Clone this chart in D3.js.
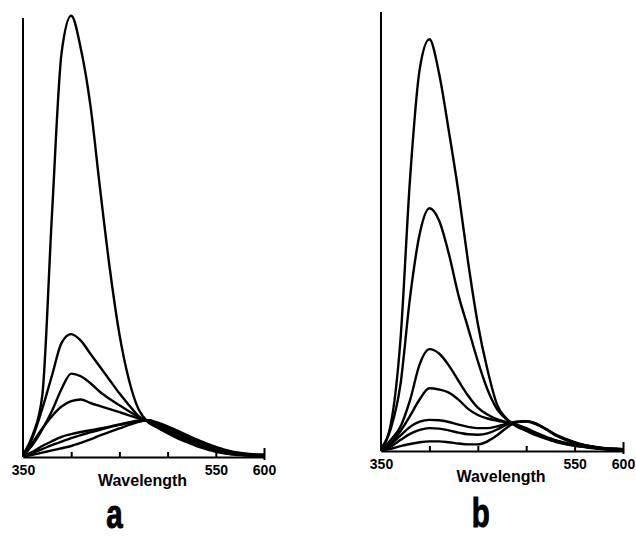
<!DOCTYPE html>
<html>
<head>
<meta charset="utf-8">
<script src="https://cdn.jsdelivr.net/npm/d3@7"></script>
<style>
  body { margin: 0; background: #fff; }
  svg { display: block; }
  .tick text { font-family: "Liberation Sans", Arial, sans-serif; font-weight: bold; font-size: 14px; fill: #000; }
</style>
</head>
<body>
<div id="chart"></div>
<script>
// ---- data (arbitrary intensity units) ----
const wavelengths = [350,360,370,380,390,400,410,420,430,440,450,460,470,480,490,500,510,520,530,540,550,560,570,580,590,600];

// panel a – emission spectra
const spectraA = [
  [0.5,5,14,55,92,100.5,93,80,61,43,28,17.5,10.8,7.9,6.6,5.4,4.3,3.4,2.5,1.8,1.2,0.8,0.5,0.4,0.3,0.2],
  [0.5,4.5,11,18.5,26,28,26.5,23.5,20.5,17.5,14.5,11.8,9.3,8.0,6.8,5.6,4.5,3.6,2.7,2.0,1.4,0.9,0.6,0.4,0.3,0.3],
  [0.3,2.8,6.3,10.5,15.5,19.0,18.4,16.8,14.8,13.2,11.8,10.4,9.1,8.1,6.9,5.8,4.7,3.8,2.9,2.1,1.5,1.0,0.7,0.5,0.4,0.3],
  [0.5,3.3,6.5,9.3,11.5,12.7,13.1,12.3,11.6,10.9,10.2,9.5,8.8,8.2,7.1,6.0,5.0,4.0,3.1,2.3,1.6,1.1,0.8,0.6,0.4,0.4],
  [0.3,1.2,2.5,3.6,4.6,5.2,5.7,6.1,6.5,6.9,7.4,7.9,8.3,8.4,7.4,6.4,5.4,4.4,3.5,2.6,1.9,1.3,0.9,0.6,0.5,0.4],
  [0.2,0.9,1.8,2.7,3.5,4.3,5.0,5.6,6.2,6.8,7.3,7.8,8.2,8.4,7.6,6.7,5.7,4.7,3.8,2.9,2.1,1.5,1.0,0.7,0.5,0.5],
  [0.1,0.5,1.0,1.5,2.0,2.5,3.2,4.0,4.9,5.7,6.5,7.3,8.0,8.4,7.8,7.0,6.0,5.0,4.0,3.1,2.3,1.6,1.1,0.8,0.6,0.5]
];

// panel b – emission spectra
const spectraB = [
  [0.5,6,25,62,87,93.8,86,73,59,43,29,18.5,10.5,7.3,5.6,4.6,3.6,2.8,2.1,1.6,1.2,0.9,0.6,0.4,0.3,0.2],
  [0.5,5,15,35,49.5,55.3,52.5,45,35.5,28,20.5,14,9.5,7.2,5.7,4.8,3.8,3.0,2.3,1.7,1.3,1.0,0.7,0.5,0.3,0.3],
  [0.3,2.5,5.5,11.6,19.8,23.2,22.2,19.5,16,12.6,9.9,8.3,7.2,6.6,5.9,5.0,4.0,3.1,2.4,1.8,1.4,1.0,0.7,0.5,0.4,0.3],
  [0.3,1.8,4.5,8,11.8,14.3,14.0,13.3,11.7,9.6,8.2,7.4,6.9,6.5,6.0,5.2,4.2,3.3,2.5,1.9,1.4,1.0,0.7,0.5,0.4,0.3],
  [0.2,1.5,3.5,5.5,6.7,7.1,7.0,6.6,6.0,5.5,5.2,5.2,5.6,6.2,6.7,6.8,6.2,5.0,3.6,2.6,1.8,1.3,0.9,0.6,0.5,0.4],
  [0.2,1.0,2.5,3.9,4.8,5.2,5.1,4.7,4.2,3.8,3.7,4.0,4.9,6.0,6.6,6.7,6.1,5.0,3.7,2.7,1.9,1.3,0.9,0.6,0.5,0.4],
  [0.1,0.5,1.1,1.6,2.0,2.2,2.2,2.0,1.7,1.5,1.5,2.2,3.6,5.3,6.5,6.8,6.3,5.1,3.8,2.8,2.0,1.4,1.0,0.7,0.5,0.4]
];

const tickValues = [350,400,450,500,550,600];
const labelledTicks = [350,550,600];
const xTitle = "Wavelength";
const panelLetters = ["a","b"];

// ---- layout ----
const W = 636, H = 537;

const panels = [
  {letter: panelLetters[0], spectra: spectraA, left: 23,  right: 264, base: 457, top: 18, titleDy: 29, letterAt: 445, letterY: 528},
  {letter: panelLetters[1], spectra: spectraB, left: 381, right: 623, base: 451, top: 12, titleDy: 31, letterAt: 453, letterY: 527}
];

const svg = d3.select("#chart").append("svg")
  .attr("width", W)
  .attr("height", H);

panels.forEach(p => {
  const x = d3.scaleLinear().domain([350, 600]).range([p.left, p.right]);
  const y = d3.scaleLinear().domain([0, 100]).range([p.base, p.top]);

  const g = svg.append("g");

  // y axis: plain vertical line, no ticks
  g.append("line")
    .attr("x1", x(350)).attr("x2", x(350))
    .attr("y1", y(0)).attr("y2", y(100))
    .attr("stroke", "#000").attr("stroke-width", 2);

  // x axis with upward ticks, only some labelled
  const axis = d3.axisBottom(x)
    .tickValues(tickValues)
    .tickSizeInner(-5)
    .tickSizeOuter(0)
    .tickPadding(8)
    .tickFormat(d => labelledTicks.includes(d) ? d : "");

  const ax = g.append("g")
    .attr("transform", `translate(0,${y(0)})`)
    .call(axis);
  ax.select(".domain").attr("stroke", "#000").attr("stroke-width", 2);
  ax.selectAll(".tick line").attr("stroke", "#000").attr("stroke-width", 2);
  // end tick at 600 crosses the axis
  ax.select(".tick:last-of-type line").attr("y1", 3).attr("y2", -9);

  g.append("text")
    .attr("x", x(474))
    .attr("y", y(0) + p.titleDy)
    .attr("text-anchor", "middle")
    .style("font-family", "Liberation Sans, Arial, sans-serif")
    .style("font-weight", "bold")
    .style("font-size", "16px")
    .text(xTitle);

  // spectra
  const line = d3.line()
    .x((d, i) => x(wavelengths[i]))
    .y(d => y(d))
    .curve(d3.curveMonotoneX);

  g.append("g")
    .selectAll("path")
    .data(p.spectra)
    .enter().append("path")
    .attr("d", line)
    .attr("fill", "none")
    .attr("stroke", "#000")
    .attr("stroke-width", 2.4)
    .attr("stroke-linejoin", "round");

  // panel letter (condensed heavy face)
  g.append("text")
    .attr("transform", `translate(${x(p.letterAt)},${p.letterY}) scale(0.72,1)`)
    .attr("text-anchor", "middle")
    .style("font-family", "Liberation Sans, Arial, sans-serif")
    .style("font-weight", "bold")
    .style("font-size", "41px")
    .attr("stroke", "#000").attr("stroke-width", 1)
    .text(p.letter);
});
</script>
</body>
</html>
